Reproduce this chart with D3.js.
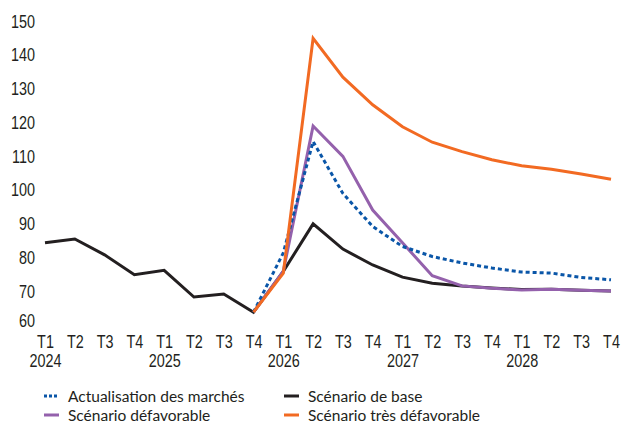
<!DOCTYPE html>
<html>
<head>
<meta charset="utf-8">
<script src="https://cdn.jsdelivr.net/npm/d3@7"></script>
<style>
  html, body { margin: 0; padding: 0; background: #fff; }
  svg { display: block; }
</style>
</head>
<body>
<svg id="chart" width="621" height="424"></svg>
<script>
const quarters = ["T1","T2","T3","T4","T1","T2","T3","T4","T1","T2","T3","T4","T1","T2","T3","T4","T1","T2","T3","T4"];
const years = ["2024","","","","2025","","","","2026","","","","2027","","","","2028","","",""];
const yTicks = [60,70,80,90,100,110,120,130,140,150];

const base        = [84.4,85.5,80.8,74.9,76.2,68.3,69.2,63.8,75.9,90.0,82.5,77.8,74.2,72.4,71.6,71.0,70.5,70.6,70.3,70.1];
const marches     = [null,null,null,null,null,null,null,63.8,81.4,114.4,99.0,89.2,83.3,80.3,78.4,76.9,75.7,75.4,74.1,73.4];
const defavorable = [null,null,null,null,null,null,null,63.8,76.0,119.0,110.0,94.1,84.4,74.6,71.6,70.9,70.4,70.6,70.3,70.1];
const tresDefav   = [null,null,null,null,null,null,null,63.8,75.4,145.0,133.5,125.3,118.8,114.2,111.4,109.0,107.2,106.2,104.8,103.2];

const seriesNames = ["Actualisation des marchés","Scénario de base","Scénario défavorable","Scénario très défavorable"];
const colors = {marches:"#0a56a8", base:"#231f20", defav:"#9461ac", tres:"#f26a22"};

const svg = d3.select("#chart");
const idx = d3.range(quarters.length);
const x = d3.scalePoint().domain(idx).range([45, 611]);
const y = d3.scaleLinear().domain([60, 150]).range([325, 21.5]);

const tickFont = "'Liberation Sans',Arial,sans-serif";
const legFont = "Lato,'Noto Sans',sans-serif";
const squeeze = "scale(0.8,1)";

// Y axis
const yAxis = svg.append("g").attr("transform","translate(35,0)")
  .call(d3.axisLeft(y).tickValues(yTicks).tickSize(0).tickPadding(0));
yAxis.select(".domain").remove();
yAxis.selectAll("text").attr("font-family", tickFont).attr("font-size", 18).attr("fill","#231f20")
  .attr("transform", d => d === 60 ? "translate(0,-4) " + squeeze : squeeze);

// X axis (quarters)
const xAxis = svg.append("g").attr("transform","translate(0,335)")
  .call(d3.axisBottom(x).tickSize(0).tickPadding(0).tickFormat(i => quarters[i]));
xAxis.select(".domain").remove();
xAxis.selectAll("text").attr("font-family", tickFont).attr("font-size", 18).attr("fill","#231f20")
  .attr("dy","0.71em").attr("transform", squeeze);

const xAxis2 = svg.append("g").attr("transform","translate(0,354)")
  .call(d3.axisBottom(x).tickSize(0).tickPadding(0).tickFormat(i => years[i]));
xAxis2.select(".domain").remove();
xAxis2.selectAll("text").attr("font-family", tickFont).attr("font-size", 18).attr("fill","#231f20")
  .attr("dy","0.71em").attr("transform", squeeze);

const line = d3.line().defined(d => d[1] != null).x(d => x(d[0])).y(d => y(d[1]));
function draw(data, color, dash) {
  svg.append("path")
    .datum(data.map((v,i) => [i, v]))
    .attr("fill","none").attr("stroke", color).attr("stroke-width", 3)
    .attr("stroke-linejoin","miter").attr("stroke-dasharray", dash || null)
    .attr("d", line);
}
draw(base, colors.base);
draw(defavorable, colors.defav);
draw(marches, colors.marches, "4,3");
draw(tresDefav, colors.tres);

// Legend
const legend = [
  {name: seriesNames[0], color: colors.marches, dash: "3,2", x: 44, y: 396},
  {name: seriesNames[1], color: colors.base, dash: null, x: 284, y: 396},
  {name: seriesNames[2], color: colors.defav, dash: null, x: 44, y: 415},
  {name: seriesNames[3], color: colors.tres, dash: null, x: 284, y: 415}
];
const lg = svg.append("g").selectAll("g").data(legend).join("g")
  .attr("transform", d => `translate(${d.x},${d.y})`);
lg.append("line").attr("x1",0).attr("x2",15).attr("y1",0).attr("y2",0)
  .attr("stroke", d => d.color).attr("stroke-width",3)
  .attr("stroke-dasharray", d => d.dash);
lg.append("text").attr("x",24).attr("y",0).attr("dy","0.36em")
  .attr("font-family", legFont).attr("font-size", 15.5).attr("fill","#231f20")
  .text(d => d.name);
</script>
</body>
</html>
